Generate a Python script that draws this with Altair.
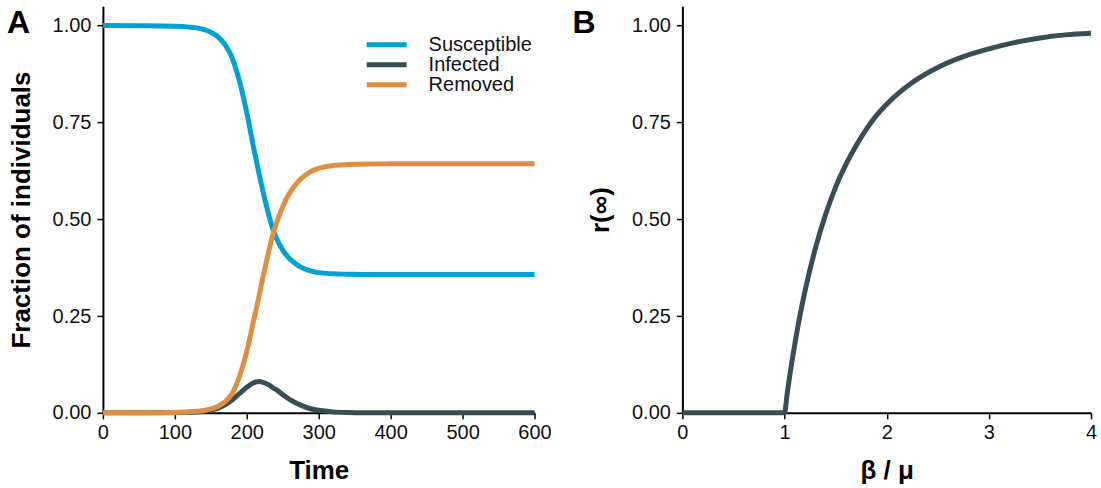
import altair as alt
import pandas as pd

FONT = "Liberation Sans"

# ---------- Panel A data ----------
time = [0, 50, 100, 120, 130, 140, 150, 160, 170, 180, 190, 200, 210, 217, 220,
        230, 237, 240, 250, 260, 270, 280, 290, 300, 320, 340, 370, 400, 500, 600]
susceptible = [1.0, 0.9995, 0.998, 0.996, 0.994, 0.990, 0.983, 0.971, 0.950, 0.915,
               0.855, 0.775, 0.680, 0.618, 0.592, 0.515, 0.470, 0.456, 0.420, 0.397,
               0.382, 0.372, 0.366, 0.362, 0.359, 0.358, 0.357, 0.357, 0.357, 0.357]
infected = [0.0001, 0.0002, 0.0008, 0.0015, 0.002, 0.004, 0.007, 0.012, 0.021, 0.034,
            0.050, 0.066, 0.078, 0.081, 0.080, 0.073, 0.064, 0.061, 0.047, 0.034,
            0.024, 0.016, 0.010, 0.0065, 0.0025, 0.001, 0.0003, 0.0001, 0.0, 0.0]
removed = [0.0, 0.0003, 0.0012, 0.0025, 0.004, 0.006, 0.010, 0.017, 0.029, 0.051,
           0.095, 0.159, 0.242, 0.301, 0.328, 0.412, 0.466, 0.483, 0.533, 0.569,
           0.594, 0.612, 0.624, 0.6315, 0.6385, 0.641, 0.6427, 0.6429, 0.643, 0.643]

groups = ["Susceptible", "Infected", "Removed"]
colors = ["#00A1D5", "#374E55", "#DF8F44"]

# ---------- Panel B data ----------
ratio = [0, 0.5, 1.0, 1.025, 1.05, 1.1, 1.15, 1.2, 1.3, 1.4, 1.5, 1.6, 1.7, 1.8, 1.9,
         2.0, 2.25, 2.5, 2.75, 3.0, 3.25, 3.5, 3.75, 4.0]
r_inf = [0, 0, 0, 0.048, 0.094, 0.176, 0.250, 0.314, 0.423, 0.511, 0.583, 0.641,
         0.690, 0.732, 0.768, 0.797, 0.853, 0.892, 0.920, 0.940, 0.956, 0.968, 0.976, 0.980]

y_ticks = [0, 0.25, 0.5, 0.75, 1.0]
a_ticks = [0, 100, 200, 300, 400, 500, 600]
b_ticks = [0, 1, 2, 3, 4]

rows = []
for name, series in zip(groups, [susceptible, infected, removed]):
    for t, v in zip(time, series):
        rows.append({"Time": t, "value": v, "group": name})
df_a = pd.DataFrame(rows)
df_b = pd.DataFrame({"ratio": ratio, "r": r_inf})

W_A, W_B, H = 432, 409, 407


def axis_common(**kw):
    return alt.Axis(
        grid=False, domainColor="black", domainWidth=2, tickColor="black",
        tickWidth=1.5, tickSize=6, labelFont=FONT, labelFontSize=20,
        labelColor="#111111", labelFlush=False, labelOverlap=False,
        titleFont=FONT, titleFontSize=26,
        titleFontWeight="bold", titleColor="black", **kw)


y_scale = alt.Scale(domain=[0, 1.05], nice=False, zero=False)

lines_a = alt.Chart(df_a).mark_line(strokeWidth=5, interpolate="monotone").encode(
    x=alt.X("Time:Q", scale=alt.Scale(domain=[0, 600], nice=False),
            axis=axis_common(values=a_ticks, labelPadding=4, titlePadding=15,
                             title="Time")),
    y=alt.Y("value:Q", scale=y_scale,
            axis=axis_common(values=y_ticks, format=".2f", labelPadding=6,
                             titlePadding=18, title="Fraction of individuals")),
    color=alt.Color("group:N", sort=groups,
                    scale=alt.Scale(domain=groups, range=colors),
                    legend=alt.Legend(title=None, orient="none", legendX=274,
                                      legendY=28.5, symbolType="M-2.857,0L2.857,0",
                                      symbolSize=196, symbolStrokeWidth=5,
                                      labelFont=FONT, labelFontSize=20,
                                      labelColor="#111111", labelOffset=32,
                                      rowPadding=-1, padding=0,
                                      direction="vertical")),
)

letter_a = alt.Chart(pd.DataFrame({"t": ["A"]})).mark_text(
    font=FONT, fontSize=32, fontWeight="bold", align="left",
    baseline="alphabetic", color="black").encode(
    text="t:N", x=alt.value(-96), y=alt.value(27))

panel_a = alt.layer(lines_a, letter_a).properties(width=W_A, height=H)

line_b = alt.Chart(df_b).mark_line(strokeWidth=5, color="#374E55",
                                   interpolate="monotone").encode(
    x=alt.X("ratio:Q", scale=alt.Scale(domain=[0, 4], nice=False),
            axis=axis_common(values=b_ticks, labelPadding=4, titlePadding=15,
                             title="β / μ")),
    y=alt.Y("r:Q", scale=y_scale,
            axis=axis_common(values=y_ticks, format=".2f", labelPadding=6,
                             titlePadding=18, title="r(∞)")),
)

letter_b = alt.Chart(pd.DataFrame({"t": ["B"]})).mark_text(
    font=FONT, fontSize=32, fontWeight="bold", align="left",
    baseline="alphabetic", color="black").encode(
    text="t:N", x=alt.value(-110), y=alt.value(27))

panel_b = alt.layer(line_b, letter_b).properties(width=W_B, height=H)

chart = alt.hconcat(panel_a, panel_b, spacing=21).properties(
    padding={"left": 7, "top": 6, "right": 0, "bottom": 0},
    background="white",
).configure_view(strokeWidth=0)

chart.save("out.html", embed_options={"renderer": "svg", "actions": False})
